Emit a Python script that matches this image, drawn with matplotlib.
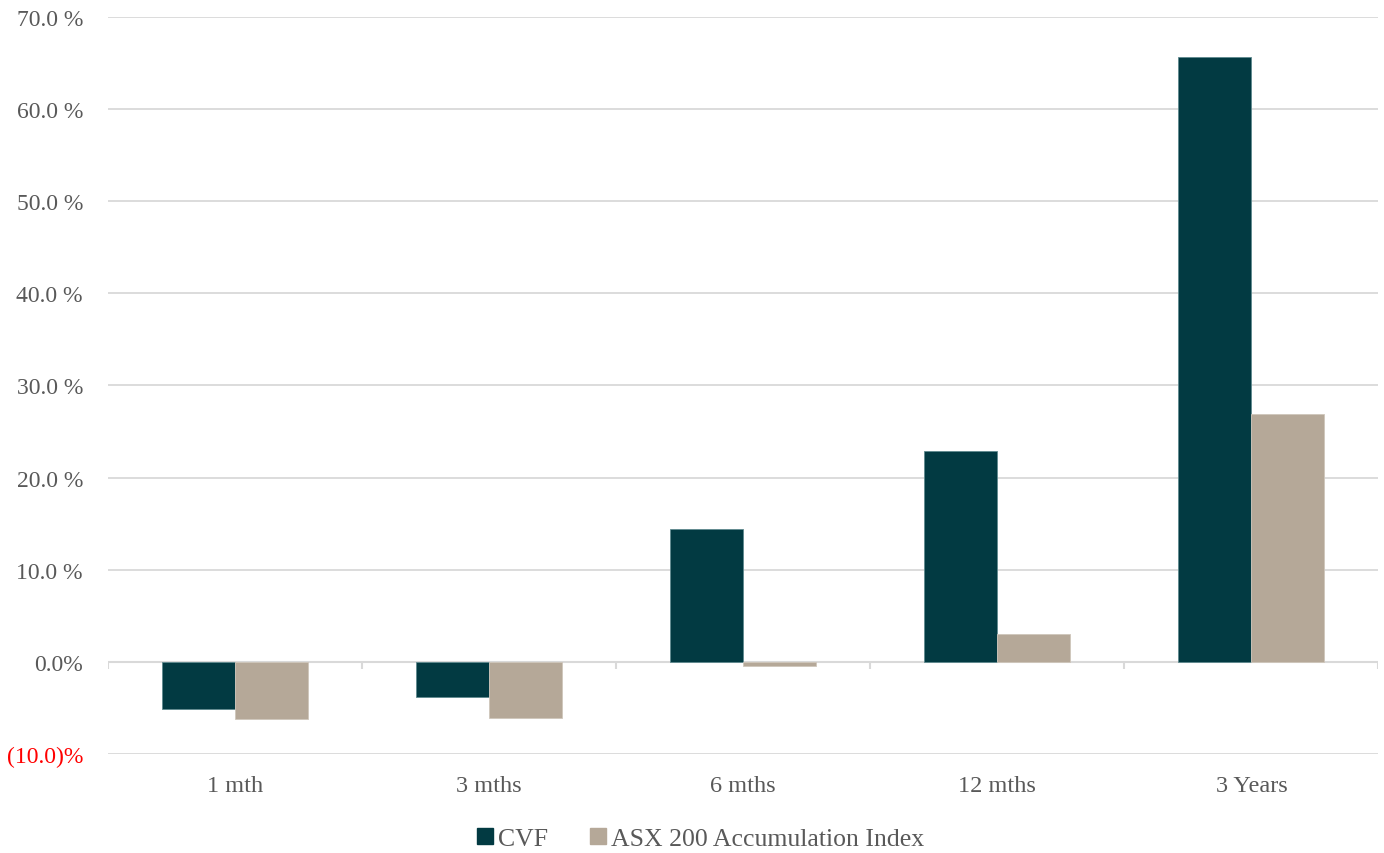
import numpy as np
import matplotlib
matplotlib.use("Agg")
import matplotlib.pyplot as plt
from matplotlib.ticker import FuncFormatter, MultipleLocator
from matplotlib.lines import Line2D

periods = ["1 mth", "3 mths", "6 mths", "12 mths", "3 Years"]
cvf = [-5.1, -3.8, 14.4, 22.9, 65.6]
asx200 = [-6.2, -6.1, -0.5, 3.0, 26.9]
series_names = ["CVF", "ASX 200 Accumulation Index"]

CVF_COLOR = "#023a42"
ASX_COLOR = "#b5a898"
TEXT = "#595959"
GRID = "#d9d9d9"

plt.rcParams["font.family"] = ["Liberation Serif", "DejaVu Serif"]

fig = plt.figure(figsize=(13.84, 8.54), dpi=100)
ax = fig.add_axes([0.078, 0.116, 0.918, 0.863])

x = np.arange(len(periods))
w = 0.2874
ax.bar(x - w / 2, cvf, w, color=CVF_COLOR, edgecolor="#5f8a8f", linewidth=0.6, zorder=3)
ax.bar(x + w / 2, asx200, w, color=ASX_COLOR, edgecolor="#cfc6bb", linewidth=0.6, zorder=3)

ax.set_xlim(-0.5, len(periods) - 0.5)
ax.set_ylim(-10, 70)
ax.yaxis.set_major_locator(MultipleLocator(10))
ax.grid(axis="y", color=GRID, linewidth=1.3, zorder=0)
ax.set_axisbelow(True)

# zero line with small category-boundary ticks
ax.axhline(0, color=GRID, linewidth=1.5, zorder=2)
bounds = np.arange(len(periods) + 1) - 0.5
ax.vlines(bounds, -0.8, 0, color=GRID, linewidth=1.5, zorder=2)


def pct(v, pos):
    if abs(v) < 1e-9:
        return "0.0%"
    if v < 0:
        return f"({abs(v):.1f})%"
    return f"{v:.1f} %"


ax.yaxis.set_major_formatter(FuncFormatter(pct))
ax.tick_params(axis="y", length=0, pad=18, labelsize=17, labelcolor=TEXT)
for lbl in ax.get_yticklabels():
    if lbl.get_text().startswith("("):
        lbl.set_color("#ff0000")

ax.set_xticks(x)
ax.set_xticklabels(periods)
ax.tick_params(axis="x", length=0, pad=15, labelsize=17.5, labelcolor=TEXT)

for s in ax.spines.values():
    s.set_visible(False)

handles = [
    Line2D([], [], marker="s", linestyle="none", markersize=12, color=CVF_COLOR),
    Line2D([], [], marker="s", linestyle="none", markersize=12, color=ASX_COLOR),
]
fig.legend(handles, series_names, loc="center", bbox_to_anchor=(0.505, 0.017),
           ncol=2, frameon=False, fontsize=18.5, labelcolor=TEXT,
           handletextpad=0.05, columnspacing=1.5, handlelength=0.9)

fig.savefig("out.png", dpi=100)
